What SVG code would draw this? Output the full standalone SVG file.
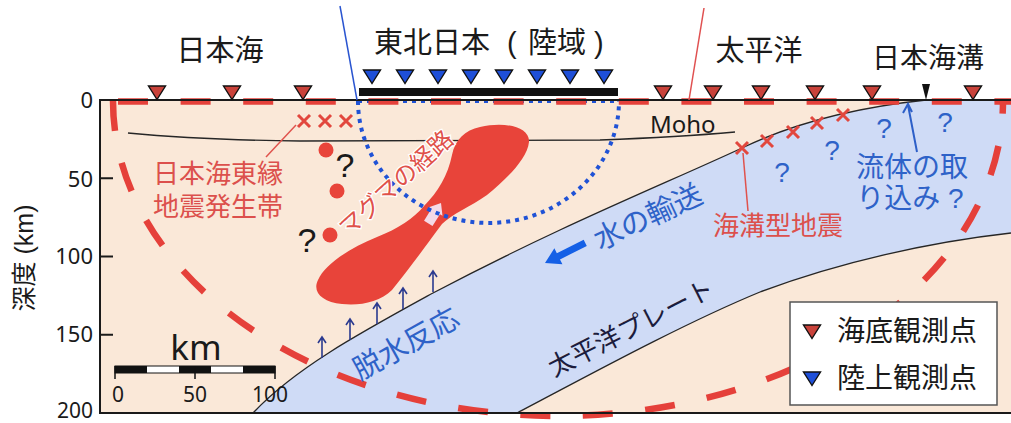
<svg xmlns="http://www.w3.org/2000/svg" width="1011" height="423" viewBox="0 0 1011 423">
<defs>
<style>
text{font-family:"Liberation Sans","Noto Sans CJK JP",sans-serif}
.num{font-family:"Noto Sans","Liberation Sans",sans-serif;fill:#1a1a1a}
.tk{fill:#1a1a1a}
.tr{fill:#dc504c}
.tb{fill:#2e62c8}
.axis{stroke:#1a1a1a;stroke-width:2;fill:none}
.bound{stroke:#262626;stroke-width:1.3;fill:none}
.rdash{stroke:#e5403a;stroke-width:6.5;fill:none;stroke-dasharray:30 32.6}
.bdot{stroke:#1f52d6;stroke-width:4;fill:none;stroke-dasharray:4 5}
.cross{stroke:#e2473e;stroke-width:3;fill:none}
.sea{fill:#c9423a;stroke:#111;stroke-width:1.4}
.land{fill:#1e4fd8;stroke:#111;stroke-width:1.4}
.up{stroke:#2b3a8f;stroke-width:1.6;fill:none}
.lead{stroke:#e0524c;stroke-width:1.5;fill:none}
</style>
<path id="tri" d="M-8.5,0 H8.5 L0,13.5 Z"/>
<path id="x" d="M-6,-6 L6,6 M-6,6 L6,-6"/>
<path id="uparrow" d="M0,0 V-21 M-4,-15 L0,-21 L4,-15"/>
</defs>

<!-- cross-section body -->
<g id="section">
  <rect x="100" y="100" width="911" height="313" fill="#fae8d8"/>
  <!-- subducting Pacific slab -->
  <path id="slab" d="M926,100 C870,106 800,120 742,148 C660,186 560,226 433,293 C360,333 295,368 253,413 L517,413 C580,380 680,325 760,292 C840,262 930,242 1011,233 L1011,100 Z" fill="#cfdbf6"/>
  <path class="bound" d="M926,100 C870,106 800,120 742,148 C660,186 560,226 433,293 C360,333 295,368 253,413"/>
  <path class="bound" d="M517,413 C580,380 680,325 760,292 C840,262 930,242 1011,233"/>
  <!-- Moho -->
  <path class="bound" d="M128,133 Q200,140 300,141 L600,140 Q680,137 735,132"/>
</g>

<!-- magma body with ascent arrow -->
<g id="magma">
  <path d="M480,127 C505,121 530,127 529,142 C527,160 505,180 487,195 C470,207 452,214 442,224 C430,240 410,268 392,290 C380,302 360,306 342,304 C322,302 312,292 318,280 C325,264 350,248 377,237 C398,229 414,218 424,206 C438,192 448,175 452,155 C455,140 465,130 480,127 Z" fill="#e8443a"/>
  <path transform="translate(441,203) rotate(-58)" d="M0,0 L-10,-8 L-10,-5 L-24,-5 L-24,5 L-10,5 L-10,8 Z" fill="#f4d9e6"/>
</g>

<!-- region outlines: arc-volcano zone (dotted) and seismic zone (dashed) -->
<g id="zones">
  <path class="bdot" d="M358,101 H619"/>
  <path class="bdot" d="M358,101 A130.5,122 0 0 0 619,101"/>
  <path class="rdash" d="M118,101.5 H1011"/>
  <path class="rdash" d="M113,101 A445,315 0 0 0 1003,101"/>
</g>

<!-- frame and depth axis -->
<g id="axes">
  <path class="axis" d="M1011,100 H100 V413 H1011"/>
  <path class="axis" d="M100,178.3 H113 M100,256.5 H113 M100,334.8 H113"/>
  <text class="num" x="93" y="108" font-size="22" text-anchor="end">0</text>
  <text class="num" x="93" y="187" font-size="22" text-anchor="end">50</text>
  <text class="num" x="93" y="264" font-size="22" text-anchor="end">100</text>
  <text class="num" x="93" y="342" font-size="22" text-anchor="end">150</text>
  <text class="num" x="93" y="418" font-size="21" text-anchor="end">200</text>
  <text class="tk" transform="translate(33,258) rotate(-90)" font-size="25" text-anchor="middle">深度 (km)</text>
</g>

<!-- surface: land array and ocean-bottom stations -->
<g id="surface">
  <rect x="359" y="88" width="259" height="8" fill="#111"/>
  <g id="land-stations" class="land">
    <use href="#tri" x="372" y="70"/>
    <use href="#tri" x="405" y="70"/>
    <use href="#tri" x="438" y="70"/>
    <use href="#tri" x="471" y="70"/>
    <use href="#tri" x="504" y="70"/>
    <use href="#tri" x="537" y="70"/>
    <use href="#tri" x="570" y="70"/>
    <use href="#tri" x="604" y="70"/>
  </g>
  <g id="sea-stations" class="sea">
    <use href="#tri" x="157" y="86"/>
    <use href="#tri" x="232" y="86"/>
    <use href="#tri" x="303" y="86"/>
    <use href="#tri" x="663" y="86"/>
    <use href="#tri" x="713" y="86"/>
    <use href="#tri" x="761" y="86"/>
    <use href="#tri" x="815" y="86"/>
    <use href="#tri" x="872" y="86"/>
    <use href="#tri" x="973" y="86"/>
  </g>
  <path id="trench-mark" d="M922,84 H930 L926,100 Z" fill="#111"/>
</g>

<!-- earthquakes -->
<g id="quakes">
  <g class="cross">
    <use href="#x" x="304" y="121"/>
    <use href="#x" x="325" y="121"/>
    <use href="#x" x="346" y="121"/>
    <use href="#x" x="742" y="148"/>
    <use href="#x" x="767" y="141"/>
    <use href="#x" x="793" y="132"/>
    <use href="#x" x="817" y="123"/>
    <use href="#x" x="843" y="115"/>
  </g>
  <g fill="#e8443a">
    <circle cx="326" cy="150" r="7.5"/>
    <circle cx="337" cy="191" r="7.5"/>
    <circle cx="330" cy="235" r="7.5"/>
  </g>
</g>

<!-- leader lines and arrows -->
<g id="connectors">
  <path d="M340,6 L357,100" stroke="#2a55d0" stroke-width="1.5"/>
  <path d="M704,8 L689,100" stroke="#e05050" stroke-width="1.5"/>
  <path class="lead" d="M266,157 L296,125"/>
  <path class="lead" d="M743,153 L748,211"/>
  <path d="M917,152 L908,105 M903,113 L908,104 L912,112" stroke="#2d5fc8" stroke-width="2" fill="none"/>
  <g class="up">
    <use href="#uparrow" x="322" y="358"/>
    <use href="#uparrow" x="350" y="340"/>
    <use href="#uparrow" x="377" y="324"/>
    <use href="#uparrow" x="403" y="309"/>
    <use href="#uparrow" x="433" y="292"/>
  </g>
  <path id="water-arrow" transform="translate(545,263) rotate(153.4)" d="M0,0 L-15,-9 L-15,-3.5 L-45,-3.5 L-45,3.5 L-15,3.5 L-15,9 Z" fill="#1560e6"/>
</g>

<!-- labels -->
<g id="titles" class="tk" font-size="29">
  <text x="220" y="61" text-anchor="middle">日本海</text>
  <text y="53"><tspan x="374">東北日本</tspan><tspan x="507">(</tspan><tspan x="528">陸域</tspan><tspan x="594">)</tspan></text>
  <text x="759" y="61" text-anchor="middle">太平洋</text>
  <text x="928" y="68" text-anchor="middle" font-size="28">日本海溝</text>
</g>
<g id="label-moho"><text class="num" x="650" y="133" font-size="24">Moho</text></g>
<g id="label-japansea-zone" class="tr" font-size="26">
  <text x="153" y="183">日本海東縁</text>
  <text x="153" y="216">地震発生帯</text>
</g>
<g id="label-questions">
  <text class="tk" x="345" y="177" font-size="34" text-anchor="middle">?</text>
  <text class="tk" x="307" y="252" font-size="34" text-anchor="middle">?</text>
  <g class="tb" font-size="28" text-anchor="middle">
    <text x="782" y="182">?</text>
    <text x="832" y="160">?</text>
    <text x="884" y="138">?</text>
    <text x="945" y="132">?</text>
  </g>
</g>
<g id="label-magma">
  <text transform="translate(396,183) rotate(-42)" font-size="24" text-anchor="middle" dominant-baseline="central" fill="#e0524a" stroke="#fff" stroke-width="2.5" paint-order="stroke">マグマの経路</text>
</g>
<g id="label-trench-eq"><text class="tr" x="778" y="235" font-size="26" text-anchor="middle">海溝型地震</text></g>
<g id="label-fluid" class="tb" font-size="28" text-anchor="middle">
  <text x="912" y="177">流体の取</text>
  <text x="910" y="208">り込み ?</text>
</g>
<g id="label-water"><text class="tb" transform="translate(648,217) rotate(-25)" font-size="29" text-anchor="middle" dominant-baseline="central">水の輸送</text></g>
<g id="label-dehydration"><text class="tb" transform="translate(406,344) rotate(-29)" font-size="29" text-anchor="middle" dominant-baseline="central">脱水反応</text></g>
<g id="label-plate"><text transform="translate(631,328) rotate(-27)" font-size="26" text-anchor="middle" dominant-baseline="central" fill="#1c1c3c">太平洋プレート</text></g>

<!-- scale bar -->
<g id="scale">
  <text class="num" x="196" y="360" font-size="35" text-anchor="middle">km</text>
  <rect x="115" y="366" width="160" height="7" fill="#fff" stroke="#111" stroke-width="1"/>
  <rect x="115" y="366" width="32" height="7" fill="#111"/>
  <rect x="179" y="366" width="32" height="7" fill="#111"/>
  <rect x="243" y="366" width="32" height="7" fill="#111"/>
  <path d="M115,366 V379 M195,366 V379 M275,366 V379" stroke="#111" stroke-width="1.5"/>
  <text class="num" x="118" y="402" font-size="21" text-anchor="middle">0</text>
  <text class="num" x="195" y="402" font-size="21" text-anchor="middle">50</text>
  <text class="num" x="270" y="402" font-size="21" text-anchor="middle">100</text>
</g>

<!-- legend -->
<g id="legend">
  <rect x="790" y="302" width="207" height="103" fill="#fff" stroke="#555" stroke-width="1.5"/>
  <use href="#tri" x="812" y="325" class="sea"/>
  <text class="tk" x="837" y="341" font-size="28">海底観測点</text>
  <use href="#tri" x="812" y="372" class="land"/>
  <text class="tk" x="837" y="388" font-size="28">陸上観測点</text>
</g>
</svg>
